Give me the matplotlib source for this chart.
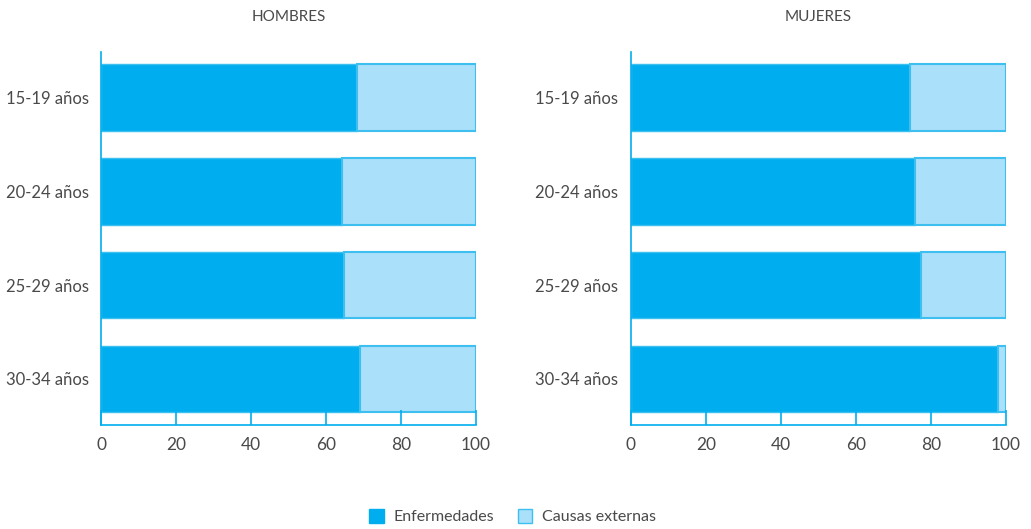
import matplotlib
matplotlib.use('Agg')
from matplotlib import pyplot as plt
from matplotlib.patches import Patch

grupos = ['15-19 años', '20-24 años', '25-29 años', '30-34 años']
hombres_enf = [68.3, 64.3, 64.8, 69.1]
mujeres_enf = [74.4, 75.7, 77.3, 97.9]
paneles = ['HOMBRES', 'MUJERES']
ticks = [0, 20, 40, 60, 80, 100]

azul = '#00AEEF'
celeste = '#ABE0FA'
borde = '#3DBFF0'
gris = '#4a4a4a'

plt.rcParams['font.family'] = ['Lato', 'DejaVu Sans']

fig = plt.figure(figsize=(10.31, 5.29), dpi=100)
ax1 = fig.add_axes([0.098, 0.197, 0.3637, 0.705])
ax2 = fig.add_axes([0.612, 0.197, 0.3637, 0.705])

for ax, titulo, enf in [(ax1, paneles[0], hombres_enf), (ax2, paneles[1], mujeres_enf)]:
    ext = [100 - v for v in enf]
    y = list(range(len(grupos)))
    ax.barh(y, enf, height=0.71, color=azul, edgecolor=borde, linewidth=1)
    ax.barh(y, ext, left=enf, height=0.71, color=celeste, edgecolor=borde, linewidth=1.5)
    ax.set_xlim(0, 100)
    ax.set_ylim(3.49, -0.49)
    ax.set_xticks(ticks)
    ax.set_yticks(y)
    ax.set_yticklabels(grupos)
    ax.tick_params(axis='x', direction='in', length=11, width=1.2, color=azul,
                   labelsize=12.5, labelcolor=gris, pad=9)
    ax.tick_params(axis='y', length=0, labelsize=12, labelcolor=gris, pad=9)
    for s in ['top', 'right']:
        ax.spines[s].set_visible(False)
    for s in ['left', 'bottom']:
        ax.spines[s].set_color(azul)
        ax.spines[s].set_linewidth(1.2)
    ax.set_title(titulo, fontsize=11, color=gris, pad=22)

handles = [Patch(facecolor=azul, edgecolor=azul, label='Enfermedades'),
           Patch(facecolor=celeste, edgecolor=borde, label='Causas externas')]
fig.legend(handles=handles, loc='center', bbox_to_anchor=(0.497, 0.023), ncol=2,
           frameon=False, fontsize=11.5, labelcolor=gris, handlelength=0.9,
           handleheight=0.9, columnspacing=1.5, handletextpad=0.6)

fig.savefig('out.png', dpi=100)
